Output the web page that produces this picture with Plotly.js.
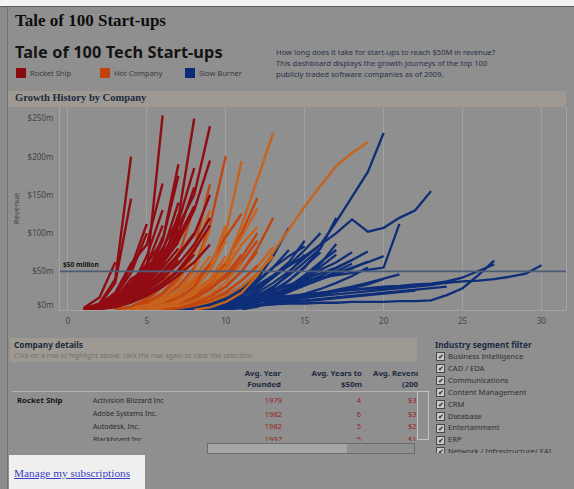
<!DOCTYPE html>
<html>
<head>
<meta charset="utf-8">
<script src="https://cdn.plot.ly/plotly-3.0.1.min.js"></script>
<style>
html,body{margin:0;padding:0;}
body{width:574px;height:489px;overflow:hidden;background:#8c8c8c;position:relative;font-family:'Noto Sans',sans-serif;}
.a{position:absolute;white-space:nowrap;}
.box{position:absolute;}
</style>
</head>
<body>
<div class="box" style="left:0;top:0;width:574px;height:6px;background:#f2f2f2"></div>
<div class="box" style="left:0;top:6px;width:574px;height:1px;background:#5e5e5e"></div>
<div class="box" style="left:8px;top:7px;width:566px;height:482px;background:#8f8f8f"></div>
<div class="box" style="left:7px;top:7px;width:1px;height:482px;background:#6f6f6f"></div>
<!-- header strips -->
<div class="box" style="left:8px;top:91px;width:558px;height:16px;background:#9e9a93"></div>
<div class="box" style="left:10px;top:338px;width:407px;height:24px;background:#9e9a93"></div>
<!-- legend swatches -->
<div class="box" style="left:16px;top:68px;width:10px;height:10px;background:#8a0a0f"></div>
<div class="box" style="left:100px;top:68px;width:10px;height:10px;background:#c4420e"></div>
<div class="box" style="left:185px;top:68px;width:10px;height:10px;background:#0c2a7a"></div>
<!-- table lines / scrollbars -->
<div class="box" style="left:12px;top:391px;width:405px;height:1px;background:#b4b4b4"></div>
<div class="box" style="left:417px;top:391px;width:12px;height:49px;border:1px solid #c4c4c4;box-sizing:border-box;background:#8f8f8f"></div>
<div class="box" style="left:207px;top:443px;width:208px;height:11px;border:1px solid #6c6c6c;box-sizing:border-box;background:#8f8f8f"></div>
<div class="box" style="left:208px;top:444px;width:139px;height:9px;background:#a6a6a6"></div>
<!-- manage box -->
<div class="box" style="left:9px;top:455px;width:136px;height:34px;background:#efefef"></div>

<div id="chart" class="box" style="left:8px;top:107px;width:560px;height:226px"></div>
<div id="thead" class="box" style="left:12px;top:364px;width:406px;height:27px;overflow:hidden"></div>
<div id="tbody" class="box" style="left:12px;top:392px;width:405px;height:49px;overflow:hidden"></div>
<div id="filter" class="box" style="left:430px;top:337px;width:144px;height:116px;overflow:hidden"></div>

<script>
// ---------------- DATA ----------------
const categories = ["Rocket Ship", "Hot Company", "Slow Burner"];

// first year (years since founding) of each company's revenue series, and revenue ($m) per year
const rocketShipStart = [1,1,1,1,1,1,1,1,1,1,1,1,1,1,1,1,1,1,1,1,1,1,1,1,1,1,1,1,1,1,1,1,1];
const rocketShipRevenue = [
  [2,16,62],
  [1,8,40,200],
  [1,6,35,145],
  [1,5,20,55,112],
  [0,4,18,48,100],
  [0,3,14,40,52,254],
  [1,6,22,60,85,165],
  [0,4,15,35,60,90,190],
  [0,3,12,30,50,80,120,250],
  [0,2,10,25,45,70,110,150,240],
  [0,2,8,20,40,60,90,130,195],
  [0,3,12,28,48,75,140],
  [0,2,9,22,38,60,125],
  [0,3,10,24,45,95],
  [0,4,14,32,58,110],
  [0,2,7,18,35,55,80],
  [0,1,5,14,30,50,72,100],
  [0,2,6,15,28,42,60,85,120],
  [0,1,4,12,25,40,65],
  [0,2,8,20,35,70],
  [0,3,11,26,50],
  [0,1,6,16,32,58,105],
  [0,2,9,24,42,66,95,135],
  [0,1,5,12,22,35,52,78,110],
  [0,2,7,19,37,62,88],
  [0,1,4,10,20,33,50,72],
  [0,3,13,30,55,78],
  [0,2,8,18,30,46,70,98,150],
  [0,1,3,9,18,30,45,62,85],
  [0,2,10,28,70,130],
  [0,2,8,22,45,90,175],
  [0,2,7,17,34,62,100,160],
  [0,1,5,15,35,65,115,185]
];

const hotCompanyStart = [3,3,3,4,4,4,5,8,3,3,4,4,3,4,5,5,4,5,4,3,5,6,4,3,4,5,3,4,6,5];
const hotCompanyRevenue = [
  [0,3,8,16,30,55,110,201],
  [0,2,6,12,22,38,60,100,194],
  [0,3,9,20,40,80,164],
  [0,2,5,10,18,32,60,110,170,231],
  [0,2,6,12,22,38,60,100,146],
  [0,3,7,14,25,40,62,95,132],
  [0,2,5,10,18,30,50,80,120],
  [0,3,10,22,45,75,105,135,162,188,205,219],
  [0,4,12,30,70,134],
  [0,2,7,16,35,75,130],
  [0,3,8,18,35,60,95,125],
  [0,2,6,14,28,50,90],
  [0,3,9,22,45,85],
  [0,3,10,25,50,105],
  [0,2,6,14,26,44,68,100],
  [0,3,8,16,30,52,85],
  [0,2,5,10,18,28,42,62,90],
  [0,2,4,8,14,24,38,56,82],
  [0,2,5,11,20,34,60],
  [0,2,6,13,24,42,70],
  [0,1,4,9,17,30,50,76],
  [0,2,5,10,18,30,48,70],
  [0,1,4,9,16,28,46,72],
  [0,2,5,11,20,34,55,110],
  [0,2,6,14,30,60],
  [0,2,5,11,20,36,60],
  [0,4,14,35,75],
  [0,2,6,12,22,36,56,85,108],
  [0,2,6,12,22,38,58],
  [0,3,9,20,40,70]
];

const slowBurnerStart = [8,8,7,8,8,9,9,8,8,9,6,7,8,7,8,9,10,9,9,10,8,9,8,10,7,8,9,7,10,6,9,8,10,7,11];
const slowBurnerRevenue = [
  [0,2,6,12,22,35,50,68,85,115,148,180,231],
  [0,3,10,20,32,45,58,70,85,100,118,102,107,120,130,155],
  [0,2,5,9,14,20,26,32,38,42,45,48,52,55,112],
  [0,2,6,12,18,25,32,40,48,55,65,76],
  [0,1,4,8,13,19,26,33,40,46,54,63],
  [0,2,5,10,16,24,32,40,48,55,62,70],
  [0,6,18,40,70,107],
  [0,3,10,22,38,55,70,83],
  [0,3,8,16,28,42,58,78,100],
  [0,3,8,15,25,38,55,80,120],
  [0,1,2,3,4,5,6,7,8,8,9,9,10,10,10,11,11,12,19,28,45,64],
  [0,2,4,7,10,13,16,18,20,22,24,26,28,30,31,33,34,37,42,50,59],
  [0,2,5,8,11,14,17,20,22,24,26,27,28,30,31,33,35,37,38,40,43,47,58],
  [0,2,4,6,8,10,12,14,16,18,20,22,24,26,28,30,32,36,42],
  [0,1,2,4,6,8,10,12,14,16,18,20,22,24,26,28,30],
  [0,1,3,5,7,9,11,13,15,17,19,21,23,25],
  [0,4,10,18,28,40,52,62,75],
  [0,3,9,18,30,45,62,80],
  [0,4,12,25,42,62,90],
  [0,3,9,18,30,45,62,78],
  [0,3,9,20,36,55,78],
  [0,2,6,12,20,30,42,56,72],
  [0,2,5,9,14,20,27,35,44,54,65],
  [0,4,11,22,38,56,75],
  [0,2,6,12,20,30,44,62],
  [0,4,12,25,45,70],
  [0,1,3,6,9,13,17,21,25,30,35,40,46],
  [0,2,6,13,24,38,55],
  [0,2,5,9,14,20,27,35,44,55],
  [0,2,5,10,18,30,46],
  [0,2,5,10,16,23,31,40,50,60],
  [0,1,2,4,6,9,12,15,19,23,28,33,40],
  [0,5,14,28,48,72],
  [0,3,8,16,28,44],
  [0,4,12,24,40,60,86]
];

const xTickVals = [0,5,10,15,20,25,30];
const yTickVals = [50,100,150,200,250];
const yTickText = ["$50m","$100m","$150m","$200m","$250m"];
const thresholdValue = 50;
const thresholdLabel = "$50 million";

// header / legend texts
const pageTitle = "Tale of 100 Start-ups";
const dashTitle = "Tale of 100 Tech Start-ups";
const descriptionLines = [
  "How long does it take for start-ups to reach $50M in revenue?",
  "This dashboard displays the growth journeys of the top 100",
  "publicly traded software companies as of 2009."
];

// table
const tableGroup = "Rocket Ship";
const tableCompanies = ["Activision Blizzard Inc","Adobe Systems Inc.","Autodesk, Inc.","Blackboard Inc."];
const tableYearFounded = ["1979","1982","1982","1997"];
const tableYearsTo50m = ["4","6","5","5"];
const tableRevenue2008 = ["$3","$3","$2","$1"];

// filter
const segments = ["Business Intelligence","CAD / EDA","Communications","Content Management","CRM","Database","Entertainment","ERP","Network / Infrastructure/ EAI"];

// ---------------- TEXT HELPERS ----------------
function txt(parent, str, x, cy, size, o) {
  o = o || {};
  const d = document.createElement('div');
  d.className = 'a';
  const L = Math.round(size * 1.3);
  d.style.lineHeight = L + 'px';
  d.style.fontSize = size + 'px';
  d.style.fontFamily = o.family || "'Noto Sans', sans-serif";
  d.style.fontWeight = o.bold ? 'bold' : 'normal';
  d.style.color = o.color || '#1e1e1e';
  const ox = o.ox || 0, oy = o.oy || 0;
  d.style.top = (cy - oy - L / 2 - 0.08 * size) + 'px';
  d.style.left = (x - ox) + 'px';
  if (o.align === 'right') d.style.transform = 'translateX(-100%)';
  if (o.underline) d.style.textDecoration = 'underline';
  if (o.ls) d.style.letterSpacing = o.ls + 'px';
  d.textContent = str;
  parent.appendChild(d);
  return d;
}
const B = document.body;

txt(B, pageTitle, 15, 22, 17, {bold: true, family: "'Liberation Serif', serif", color: '#0d0d0d'});
txt(B, dashTitle, 15, 54, 16.3, {bold: true, color: '#141414', ls: 0.1});
txt(B, categories[0], 30, 73.3, 7.5, {color: '#3a3a3a'});
txt(B, categories[1], 114, 73.3, 7.5, {color: '#3a3a3a'});
txt(B, categories[2], 199, 73.3, 7.5, {color: '#3a3a3a'});
descriptionLines.forEach((s, i) => txt(B, s, 276, [52.7, 63.5, 75][i], 7.6, {color: '#29324a'}));
txt(B, "Growth History by Company", 15, 98.5, 10.5, {bold: true, family: "'Liberation Serif', serif", color: '#1d2b40'});
txt(B, "Company details", 14, 345, 8.3, {bold: true, color: '#1c2a3e'});
txt(B, "Click on a row to highlight above; click the row again to clear the selection", 14, 355.7, 6.9, {color: '#75716b'});
txt(B, "Manage my subscriptions", 14, 474.5, 11.3, {family: "'Liberation Serif', serif", color: '#3b3fc6', underline: true});

// table header
const TH = document.getElementById('thead');
const hdr = {ox: 12, oy: 364, bold: true, color: '#1d2b40'};
txt(TH, "Avg. Year", 281, 373.3, 7.8, Object.assign({align: 'right'}, hdr));
txt(TH, "Founded", 281, 384.3, 7.8, Object.assign({align: 'right'}, hdr));
txt(TH, "Avg. Years to", 362, 373.3, 7.8, Object.assign({align: 'right'}, hdr));
txt(TH, "$50m", 362, 384.3, 7.8, Object.assign({align: 'right'}, hdr));
txt(TH, "Avg. Revenue", 373, 373.3, 7.8, hdr);
txt(TH, "(2008)", 402, 384.3, 7.8, hdr);

// table body
const TB = document.getElementById('tbody');
const rowY = [400.7, 414.3, 426.7, 440];
const tb = {ox: 12, oy: 392};
txt(TB, tableGroup, 17, rowY[0], 7.8, Object.assign({bold: true, color: '#151515'}, tb));
tableCompanies.forEach((c, i) => {
  txt(TB, c, 93, rowY[i], 7, Object.assign({color: '#2a2a2a'}, tb));
  txt(TB, tableYearFounded[i], 282, rowY[i], 7.5, Object.assign({color: '#9a1c1c', align: 'right'}, tb));
  txt(TB, tableYearsTo50m[i], 361, rowY[i], 7.5, Object.assign({color: '#9a1c1c', align: 'right'}, tb));
  txt(TB, tableRevenue2008[i], 408, rowY[i], 7.5, Object.assign({color: '#9a1c1c'}, tb));
});

// filter panel
const FP = document.getElementById('filter');
txt(FP, "Industry segment filter", 435, 345, 8.3, {ox: 430, oy: 337, bold: true, color: '#1c2b44'});
segments.forEach((s, i) => {
  const cy = 356.7 + i * 11.9;
  const cb = document.createElement('div');
  cb.className = 'a';
  cb.style.cssText += 'left:' + (436 - 430) + 'px;top:' + (cy - 4.5 - 337) + 'px;width:9px;height:9px;box-sizing:border-box;border:1px solid #4a4a4a;background:#c9c9c9;font-size:7px;line-height:7px;text-align:center;color:#1a1a1a;';
  cb.textContent = '\u2714';
  FP.appendChild(cb);
  txt(FP, s, 448, cy, 7.6, {ox: 430, oy: 337, color: '#2f2f2f'});
});

// ---------------- CHART ----------------
function buildTraces(name, starts, revs, colors, width) {
  return revs.map((r, k) => ({
    type: 'scatter', mode: 'lines', name: name,
    x: r.map((_, i) => starts[k] + i),
    y: r,
    line: {color: colors[k % colors.length], width: width},
    hoverinfo: 'skip', showlegend: false
  }));
}
const traces = [].concat(
  buildTraces(categories[2], slowBurnerStart, slowBurnerRevenue, ['#0e2e78'], 2.3),
  buildTraces(categories[1], hotCompanyStart, hotCompanyRevenue, ['#c2440f', '#c7631d'], 2.4),
  buildTraces(categories[0], rocketShipStart, rocketShipRevenue, ['#900c12'], 2.4)
);

const layout = {
  width: 560, height: 226,
  margin: {l: 52, r: 2, t: 0, b: 23},
  paper_bgcolor: 'rgba(0,0,0,0)',
  plot_bgcolor: '#8f8f8f',
  font: {family: "'Noto Sans', sans-serif", size: 8, color: '#444444'},
  showlegend: false,
  xaxis: {
    range: [-0.5, 31.55], tickvals: xTickVals, showgrid: true, gridcolor: '#a1a1a1', gridwidth: 1,
    zeroline: false, showline: true, linecolor: '#a4a4a4', linewidth: 1, mirror: true,
    ticks: '', tickfont: {size: 8, color: '#444444'}, ticklabelstandoff: 3
  },
  yaxis: {
    range: [-0.5, 265], tickvals: yTickVals, ticktext: yTickText, showgrid: false,
    zeroline: false, showline: true, linecolor: '#a4a4a4', linewidth: 1, mirror: true,
    ticks: '', tickfont: {size: 8, color: '#444444'}, ticklabelstandoff: 4,
    title: {text: 'Revenue', font: {size: 7.8, color: '#444444'}, standoff: 6}
  },
  shapes: [{
    type: 'line', xref: 'paper', x0: 0, x1: 1, yref: 'y', y0: thresholdValue, y1: thresholdValue,
    line: {color: '#4d5b76', width: 1.6}, layer: 'above'
  }],
  annotations: [
    {xref: 'paper', x: 0, xanchor: 'left', xshift: 1, yref: 'y', y: thresholdValue, yanchor: 'bottom', yshift: 0,
     text: '<b>' + thresholdLabel + '</b>', showarrow: false, font: {size: 6.6, color: '#141414'}},
    {xref: 'paper', x: 0, xanchor: 'right', xshift: -4, yref: 'y', y: 0, yshift: 5,
     text: '$0m', showarrow: false, font: {size: 8, color: '#444444'}}
  ]
};
Plotly.newPlot('chart', traces, layout, {staticPlot: true, displayModeBar: false});
</script>
</body>
</html>
